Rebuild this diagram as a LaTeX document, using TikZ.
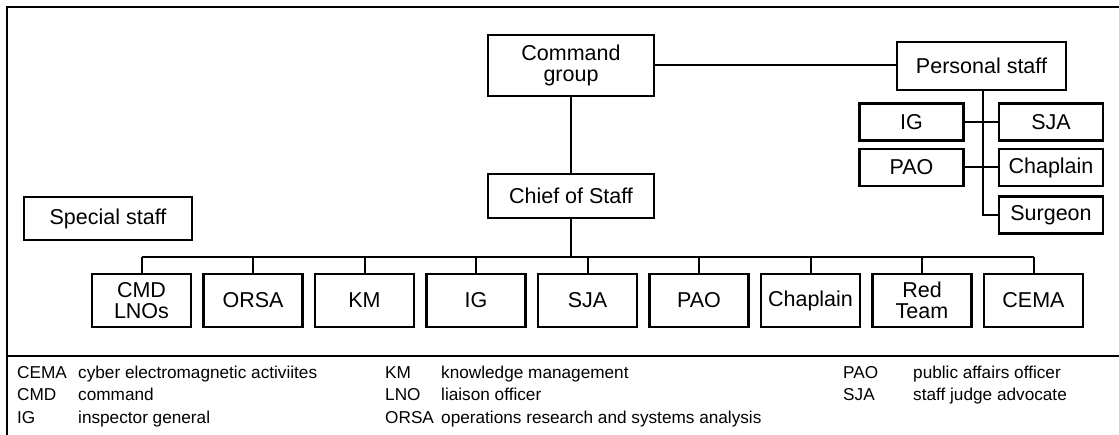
\documentclass[tikz,border=0pt]{standalone}
\usepackage{fontspec}
\setmainfont{Liberation Sans}
\begin{document}
\begin{tikzpicture}[x=1pt,y=-1pt,
  box/.style={draw, line width=2.2pt, fill=white, inner sep=0pt, align=center,
    font={\fontsize{21.5pt}{20.5pt}\selectfont}},
  staffbox/.style={box, minimum width=99pt, minimum height=53pt},
  persbox/.style={box, minimum width=104pt, minimum height=37pt},
  link/.style={line width=2pt},
  frame/.style={line width=2.4pt},
  abbr/.style={anchor=base west, inner sep=0pt, font={\fontsize{17.2pt}{20pt}\selectfont}}]
\useasboundingbox (0,0) rectangle (1119,435);

% outer frame and legend separator
\draw[frame] (1119,7) -- (7,7) -- (7,435);
\draw[frame] (7,356) -- (1119,356);

% command structure
\node[box, minimum width=166pt, minimum height=61pt] (cmd) at (571,65.5) {Command\\group};
\node[box, minimum width=166pt, minimum height=44pt] (cos) at (571,196) {Chief of Staff};
\node[box, minimum width=168pt, minimum height=43pt] (spec) at (108,218.5) {Special staff};
\node[box, minimum width=169pt, minimum height=48pt] (pers) at (981.5,66) {Personal staff};

% personal staff sections
\node[persbox] (pig)   at (911.5,122)  {IG};
\node[persbox] (psja)  at (1051,122)   {SJA};
\node[persbox] (ppao)  at (911.5,167.5) {PAO};
\node[persbox] (pchap) at (1051,167.5) {Chaplain};
\node[persbox] (psurg) at (1051,215)   {Surgeon};
\coordinate (spine) at (983,0);

% special staff sections
\node[staffbox] (s1) at (141.5,300.5) {CMD\\LNOs};
\node[staffbox] (s2) at (253,300.5)   {ORSA};
\node[staffbox] (s3) at (364.5,300.5) {KM};
\node[staffbox] (s4) at (476,300.5)   {IG};
\node[staffbox] (s5) at (587.5,300.5) {SJA};
\node[staffbox] (s6) at (699,300.5)   {PAO};
\node[staffbox] (s7) at (810.5,300.5) {Chaplain};
\node[staffbox] (s8) at (922,300.5)   {Red\\Team};
\node[staffbox] (s9) at (1033.5,300.5) {CEMA};
\coordinate (bus) at (571,257);

% connectors
\draw[link] (cmd.east) -- (cmd.east -| pers.west);
\draw[link] (cmd.south) -- (cos.north);
\draw[link] (cos.south) -- (bus);
\draw[link] (s1.north |- bus) -- (s9.north |- bus);
\foreach \s in {s1,s2,s3,s4,s5,s6,s7,s8,s9}
  \draw[link] (\s.north) -- (\s.north |- bus);
\draw[link] (pers.south -| spine) -- (spine |- psurg.west) -- (psurg.west);
\draw[link] (pig.east) -- (psja.west);
\draw[link] (ppao.east) -- (pchap.west);

% legend
\node[abbr] (la1) at (17,379) {CEMA};
\node[abbr] (ld1) at (78,379) {cyber electromagnetic activiites};
\node[abbr] (la2) at (17,401) {CMD};
\node[abbr] (ld2) at (78,401) {command};
\node[abbr] (la3) at (17,423) {IG};
\node[abbr] (ld3) at (78,423) {inspector general};
\node[abbr] (la4) at (385,379) {KM};
\node[abbr] (ld4) at (441,379) {knowledge management};
\node[abbr] (la5) at (385,401) {LNO};
\node[abbr] (ld5) at (441,401) {liaison officer};
\node[abbr] (la6) at (385,423) {ORSA};
\node[abbr] (ld6) at (441,423) {operations research and systems analysis};
\node[abbr] (la7) at (843,379) {PAO};
\node[abbr] (ld7) at (913,379) {public affairs officer};
\node[abbr] (la8) at (843,401) {SJA};
\node[abbr] (ld8) at (913,401) {staff judge advocate};
\end{tikzpicture}
\end{document}
